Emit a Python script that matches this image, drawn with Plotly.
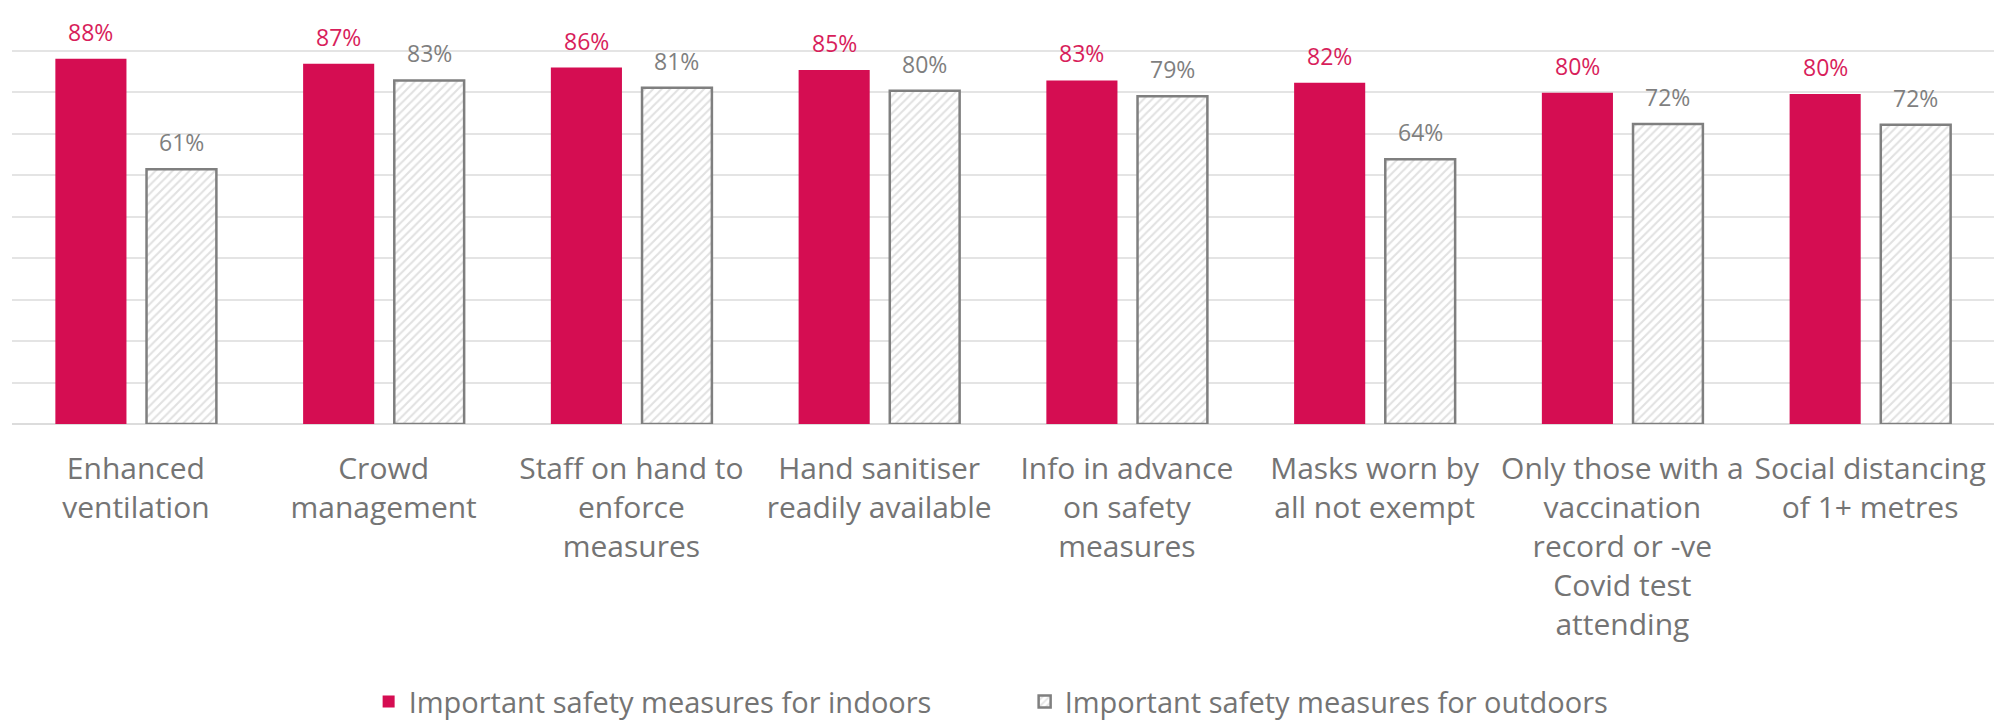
import plotly.graph_objects as go

categories = [
    "Enhanced<br>ventilation",
    "Crowd<br>management",
    "Staff on hand to<br>enforce<br>measures",
    "Hand sanitiser<br>readily available",
    "Info in advance<br>on safety<br>measures",
    "Masks worn by<br>all not exempt",
    "Only those with a<br>vaccination<br>record or -ve<br>Covid test<br>attending",
    "Social distancing<br>of 1+ metres",
]
indoors = [88.0, 86.8, 85.9, 85.3, 82.8, 82.2, 79.8, 79.5]
outdoors = [61.4, 82.8, 81.0, 80.3, 79.0, 63.8, 72.3, 72.1]
series_names = ["Important safety measures for indoors", "Important safety measures for outdoors"]

RED = "#D50D52"
RED_TXT = "#D81E5B"
GRAY = "#7F7F7F"
TXT = "#747474"
FONT = "Open Sans"

xs = list(range(len(categories)))
red_off, red_w = -0.325, 0.287
gray_off, gray_w = 0.043, 0.282

fig = go.Figure()
fig.add_trace(go.Bar(
    x=xs, y=indoors, name=series_names[0],
    offset=red_off, width=red_w,
    marker=dict(color=RED, line=dict(width=0)),
))
fig.add_trace(go.Bar(
    x=xs, y=outdoors, name=series_names[1],
    offset=gray_off, width=gray_w,
    marker=dict(color="white", line=dict(color=GRAY, width=2.5),
                pattern=dict(shape="/", fgcolor="#c4c4c4", bgcolor="white", size=6, solidity=0.35)),
))

for i, v in enumerate(indoors):
    fig.add_annotation(x=i + red_off + red_w / 2, y=v, text=f"{v:.0f}%", showarrow=False,
                       yanchor="middle", yshift=27, font=dict(family=FONT, size=23, color=RED_TXT))
for i, v in enumerate(outdoors):
    fig.add_annotation(x=i + gray_off + gray_w / 2, y=v, text=f"{v:.0f}%", showarrow=False,
                       yanchor="middle", yshift=27, font=dict(family=FONT, size=23, color=GRAY))

fig.update_layout(
    width=1998, height=724,
    margin=dict(l=12, r=4, t=9, b=300, autoexpand=False),
    paper_bgcolor="white", plot_bgcolor="white",
    barmode="overlay",
    font=dict(family=FONT, color=TXT),
    showlegend=True,
    legend=dict(orientation="h", xref="container", x=0.1845, xanchor="left",
                yref="container", y=0.031, yanchor="middle",
                font=dict(family=FONT, size=29, color=TXT),
                entrywidth=611, entrywidthmode="pixels", bgcolor="rgba(0,0,0,0)"),
)
fig.update_xaxes(range=[-0.5, len(categories) - 0.5], tickvals=xs, ticktext=categories,
                 showgrid=False, zeroline=False, showline=False, ticks="",
                 tickfont=dict(family=FONT, size=30, color=TXT), ticklabelstandoff=24)
fig.update_yaxes(range=[0, 100], dtick=10, showgrid=True, gridcolor="#e4e4e4", gridwidth=2,
                 zeroline=True, zerolinecolor="#dcdcdc", zerolinewidth=2,
                 showticklabels=False, ticks="")

fig.write_html("out.html")
